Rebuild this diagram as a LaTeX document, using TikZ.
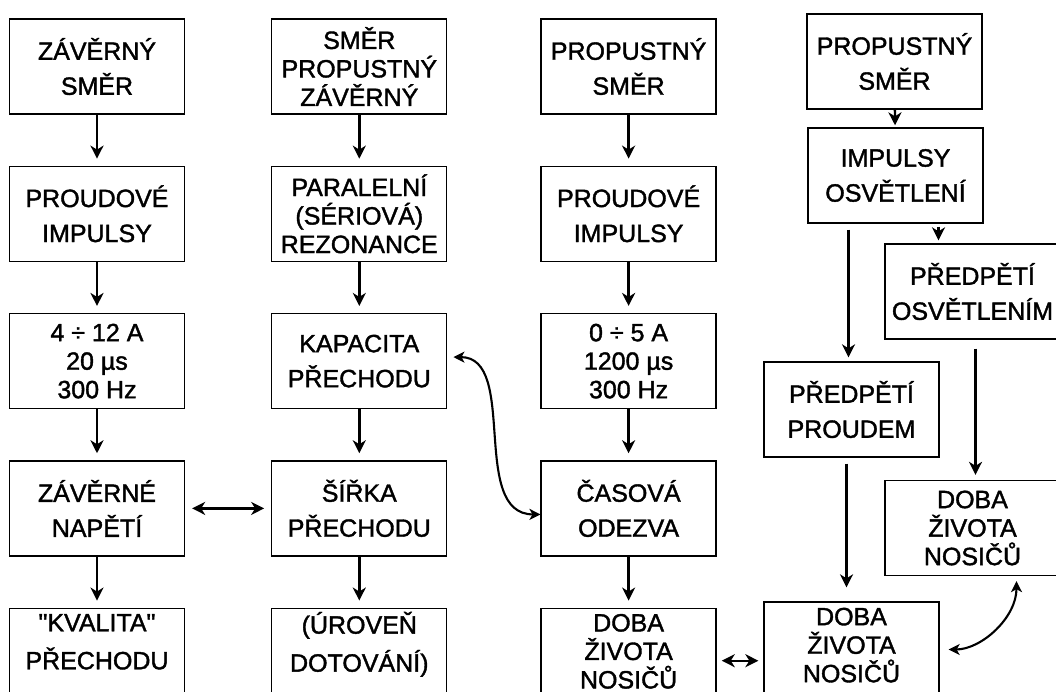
\documentclass[tikz,border=0pt]{standalone}
\usepackage{fontspec}
\setmainfont{Liberation Sans}[FakeBold=1.5]
\usetikzlibrary{arrows.meta,positioning}

\tikzset{
    block/.style = {draw=black, line width=1.3pt, minimum width=175pt,
        minimum height=95pt, inner sep=0pt, align=center,
        font=\fontsize{25}{35}\selectfont},
    tight/.style = {font=\fontsize{25}{28.5}\selectfont},
    raised/.style = {text depth=#1},
    flow/.style = {-{Stealth[length=13pt,width=13pt,inset=4pt]}, line width=2.4pt,
        shorten >=7pt},
    link/.style = {{Stealth[length=13pt,width=13pt,inset=4pt]}-{Stealth[length=13pt,width=13pt,inset=4pt]},
        line width=2.4pt, shorten >=7pt, shorten <=7pt},
    curve/.style = {{Stealth[length=11pt,width=11pt,inset=3pt]}-{Stealth[length=11pt,width=11pt,inset=3pt]},
        line width=2.1pt}
}

\begin{document}
\begin{tikzpicture}[
    x = 1pt, y = -1pt, % pixel-like units, y downwards
    node distance = 51pt and 86pt
    ]
    \useasboundingbox (0,0) rectangle (1056,692);

    % first column
    \node[block] (smer1) at (97,66.5) {ZÁVĚRNÝ\\SMĚR};
    \node[block] (impulsy1) [below=51pt of smer1] {PROUDOVÉ\\IMPULSY};
    \node[block,tight] (hodnoty1) [below=51pt of impulsy1] {4 ÷ 12 A\\20 µs\\300 Hz};
    \node[block] (napeti) [below=51pt of hodnoty1] {ZÁVĚRNÉ\\NAPĚTÍ};
    \node[block,raised=28pt,font=\fontsize{25}{38}\selectfont] (kvalita) [below=51pt of napeti]
        {\textquotedbl KVALITA\textquotedbl\\PŘECHODU};

    % second column
    \node[block,tight] (smer2) [right=86pt of smer1] {SMĚR\\PROPUSTNÝ\\ZÁVĚRNÝ};
    \node[block,tight] (rezonance) [below=51pt of smer2] {PARALELNÍ\\(SÉRIOVÁ)\\REZONANCE};
    \node[block] (kapacita) [below=51pt of rezonance] {KAPACITA\\PŘECHODU};
    \node[block] (sirka) [below=51pt of kapacita] {ŠÍŘKA\\PŘECHODU};
    \node[block,raised=28pt,font=\fontsize{25}{38}\selectfont] (dotovani) [below=51pt of sirka]
        {(ÚROVEŇ\\DOTOVÁNÍ)};

    % third column
    \node[block] (smer3) [right=93pt of smer2] {PROPUSTNÝ\\SMĚR};
    \node[block] (impulsy3) [below=51pt of smer3] {PROUDOVÉ\\IMPULSY};
    \node[block,tight] (hodnoty3) [below=51pt of impulsy3] {0 ÷ 5 A\\1200 µs\\300 Hz};
    \node[block] (odezva) [below=51pt of hodnoty3] {ČASOVÁ\\ODEZVA};
    \node[block,tight,raised=9pt] (doba3) [below=51pt of odezva] {DOBA\\ŽIVOTA\\NOSIČŮ};

    % fourth column
    \node[block] (smer4) at (894.5,61.5) {PROPUSTNÝ\\SMĚR};
    \node[block] (osvetleni) at (895.5,175.5) {IMPULSY\\OSVĚTLENÍ};
    \node[block] (predpetiosv) at (972.5,291.5) {PŘEDPĚTÍ\\OSVĚTLENÍM};
    \node[block] (predpetiproud) at (851.5,409.5) {PŘEDPĚTÍ\\PROUDEM};
    \node[block,tight] (dobar) at (972.5,528) {DOBA\\ŽIVOTA\\NOSIČŮ};
    \node[block,tight,raised=9pt] (doba4) at (851.5,649.5) {DOBA\\ŽIVOTA\\NOSIČŮ};

    % columns
    \draw[flow] (smer1) -- (impulsy1);
    \draw[flow] (impulsy1) -- (hodnoty1);
    \draw[flow] (hodnoty1) -- (napeti);
    \draw[flow] (napeti) -- (kvalita);
    \draw[flow] (smer2) -- (rezonance);
    \draw[flow] (rezonance) -- (kapacita);
    \draw[flow] (kapacita) -- (sirka);
    \draw[flow] (sirka) -- (dotovani);
    \draw[flow] (smer3) -- (impulsy3);
    \draw[flow] (impulsy3) -- (hodnoty3);
    \draw[flow] (hodnoty3) -- (odezva);
    \draw[flow] (odezva) -- (doba3);

    \draw[flow,shorten >=2pt] (smer4) -- (osvetleni);
    \draw[flow,shorten <=3pt,shorten >=3pt] ([xshift=43pt]osvetleni.south)
        -- ([xshift=43pt]osvetleni.south |- predpetiosv.north);
    \draw[flow,shorten <=6pt,shorten >=4pt] ([xshift=-3pt]osvetleni.south -| predpetiproud.north)
        -- ([xshift=-3pt]predpetiproud.north);
    \draw[flow,shorten <=9pt,shorten >=5pt] ([xshift=3pt]predpetiosv.south)
        -- ([xshift=3pt]dobar.north);
    \draw[flow,shorten <=6pt,shorten >=14pt] ([xshift=-5pt]predpetiproud.south)
        -- ([xshift=-5pt]doba4.north);

    % vazby
    \draw[link] (napeti) -- (sirka);
    \draw[link,shorten <=5pt,shorten >=5pt] ([yshift=-5pt]doba3.east)
        -- ([yshift=-5pt]doba3.east -| doba4.west);
    \draw[curve,shorten <=6pt] ([yshift=4pt]kapacita.east) to[out=0,in=180] ([yshift=-6pt]odezva.west);
    \draw[curve,shorten <=9pt,shorten >=5pt] (doba4.east) to[out=0,in=-90] ([xshift=44pt]dobar.south);
\end{tikzpicture}
\end{document}
